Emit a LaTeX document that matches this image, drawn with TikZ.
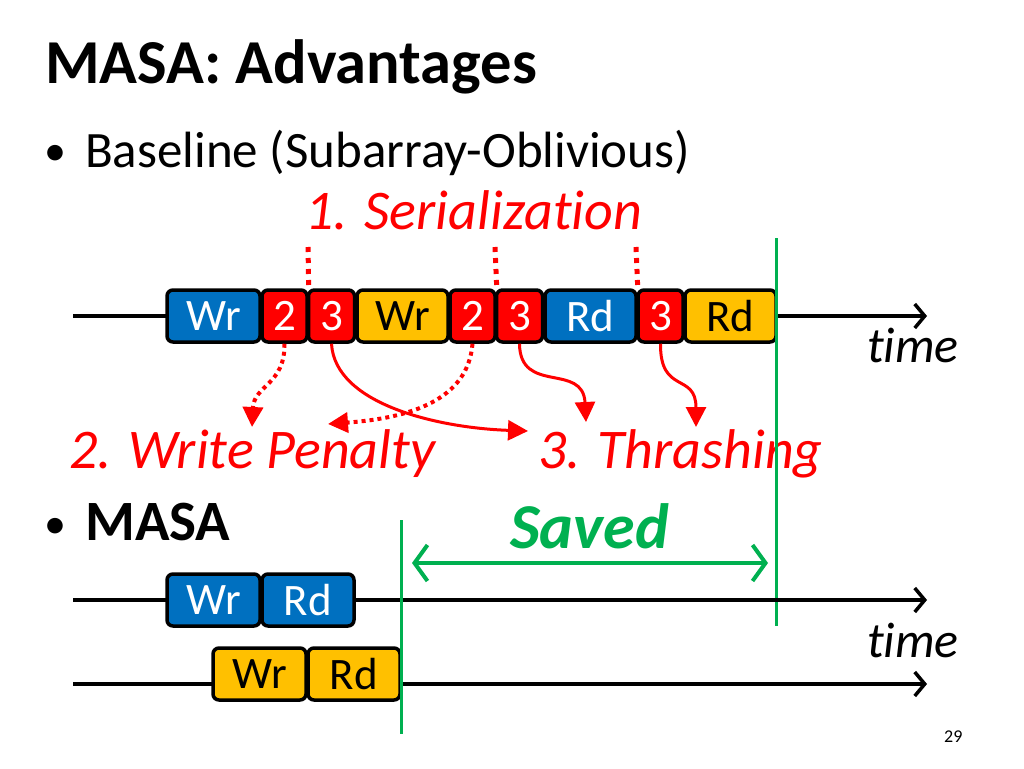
\documentclass[tikz,border=0pt]{standalone}
\usepackage{fontspec}
\setmainfont{Carlito}[Ligatures=NoCommon]
\usetikzlibrary{arrows.meta}
\definecolor{cblue}{HTML}{0070C0}
\definecolor{cred}{HTML}{FF0000}
\definecolor{cyel}{HTML}{FFC000}
\definecolor{cgreen}{HTML}{00B050}
\tikzset{
  cell/.style={draw=black, line width=3.5pt, rounded corners=6pt, minimum height=52pt, inner sep=0pt, font=\fontsize{45}{45}\selectfont},
  bcell/.style={cell, fill=cblue, text=white},
  rcell/.style={cell, fill=cred, text=white},
  ycell/.style={cell, fill=cyel, text=black},
  tline/.style={line width=3.5pt, -{Straight Barb[length=10pt,width=24pt,line width=3.5pt]}},
  redtxt/.style={text=cred, font=\fontsize{56}{56}\selectfont\itshape, inner sep=0pt, anchor=base west},
  timetxt/.style={anchor=base west, inner sep=0pt, font=\fontsize{50}{50}\selectfont\itshape},
  bodytxt/.style={anchor=base west, inner sep=0pt, font=\fontsize{51}{51}\selectfont},
  serial/.style={draw=cred, line width=5pt, dash pattern=on 5pt off 6pt},
  penalty/.style={draw=cred, line width=4pt, dash pattern=on 4pt off 4pt, -{Triangle[length=20pt,width=20pt]}},
  thrash/.style={draw=cred, line width=3pt, -{Triangle[length=20pt,width=20pt]}},
  gline/.style={draw=cgreen, line width=3pt},
}
\begin{document}
\begin{tikzpicture}[x=1pt,y=-1pt]
\useasboundingbox (0,0) rectangle (1024,768);
% title and bullets
\node[anchor=base west, inner sep=0pt, font=\fontsize{62.5}{62.5}\selectfont\bfseries] (title) at (45,83) {MASA: Advantages};
\node[bodytxt, font=\fontsize{44}{44}\selectfont] (b1) at (44,165) {•};
\node[bodytxt] (base) at (85,167) {Baseline (Subarray-Oblivious)};
\node[redtxt] (ser) at (305,229) {1. Serialization};
\node[bodytxt, font=\fontsize{44}{44}\selectfont] (b2) at (44,538) {•};
\node[anchor=base west, inner sep=0pt, font=\fontsize{57}{57}\selectfont\bfseries] (masa) at (85,540) {MASA};

% timeline 1
\coordinate (t1s) at (73,316);
\coordinate (t1e) at (927,316);
\draw[tline] (t1s) -- (t1e);
\node[bcell, minimum width=93pt] (c1) at (213.5,316) {Wr};
\node[rcell, minimum width=45pt] (c2) at (284.5,316) {2};
\node[rcell, minimum width=46pt] (c3) at (331.5,316) {3};
\node[ycell, minimum width=91pt] (c4) at (402.5,316) {Wr};
\node[rcell, minimum width=45pt] (c5) at (472.5,316) {2};
\node[rcell, minimum width=46pt] (c6) at (519.5,316) {3};
\node[bcell, minimum width=91pt] (c7) at (590.5,316) {Rd};
\node[rcell, minimum width=45pt] (c8) at (660.5,316) {3};
\node[ycell, minimum width=91pt] (c9) at (730.5,316) {Rd};
\node[timetxt] (time1) at (867,362) {time};

% serialization markers
\coordinate (s1) at (308,247);
\coordinate (s2) at (495,247);
\coordinate (s3) at (636,247);
\draw[serial] (s1) -- (c2.north east);
\draw[serial] (s2) -- (c5.north east);
\draw[serial] (s3) -- (c7.north east);

% labels
\node[redtxt] (wp) at (69,468) {2. Write Penalty};
\node[redtxt] (th) at (538,468) {3. Thrashing};

% red arrows
\coordinate (wpa) at (252,427);
\coordinate (wpb) at (328,424);
\coordinate (tha) at (528,431);
\coordinate (thb) at (586,422);
\coordinate (thc) at (696,427);
\draw[penalty] (c2.south) .. controls (285,385) and (254,385) .. (wpa);
\draw[penalty] (c5.south) .. controls (468,400) and (410,418) .. (wpb);
\draw[thrash] (c3.south) .. controls (335,405) and (440,428) .. (tha);
\draw[thrash] (c6.south) .. controls (520,395) and (583,362) .. (thb);
\draw[thrash] (c8.south) .. controls (660,395) and (696,372) .. (thc);

% green lines
\coordinate (g1t) at (776,238);
\coordinate (g1b) at (776,626);
\draw[gline] (g1t) -- (g1b);

% MASA timelines
\coordinate (t2s) at (73,600);
\coordinate (t2e) at (927,600);
\draw[tline] (t2s) -- (t2e);
\node[bcell, minimum width=93pt] (m1) at (213.5,600) {Wr};
\node[bcell, minimum width=92pt] (m2) at (308,600) {Rd};
\node[timetxt] (time2) at (867,657) {time};

\coordinate (t3s) at (73,684);
\coordinate (t3e) at (927,684);
\draw[tline] (t3s) -- (t3e);
\node[ycell, minimum width=93pt] (n1) at (259.5,674) {Wr};
\node[ycell, minimum width=92pt] (n2) at (354,674) {Rd};

\coordinate (g2t) at (401,520);
\coordinate (g2b) at (401,734);
\draw[gline] (g2t) -- (g2b);

% saved
\node[anchor=base west, inner sep=0pt, text=cgreen, font=\fontsize{64}{64}\selectfont\bfseries\itshape] (saved) at (510,548) {Saved};
\coordinate (sa) at (412,563);
\coordinate (sb) at (768,563);
\draw[draw=cgreen, line width=4pt, {Straight Barb[length=13pt,width=36pt,line width=4pt]}-{Straight Barb[length=13pt,width=36pt,line width=4pt]}] (sa) -- (sb);

\node[anchor=base west, inner sep=0pt, font=\fontsize{18}{18}\selectfont] (pg) at (944,742) {29};
\end{tikzpicture}
\end{document}
